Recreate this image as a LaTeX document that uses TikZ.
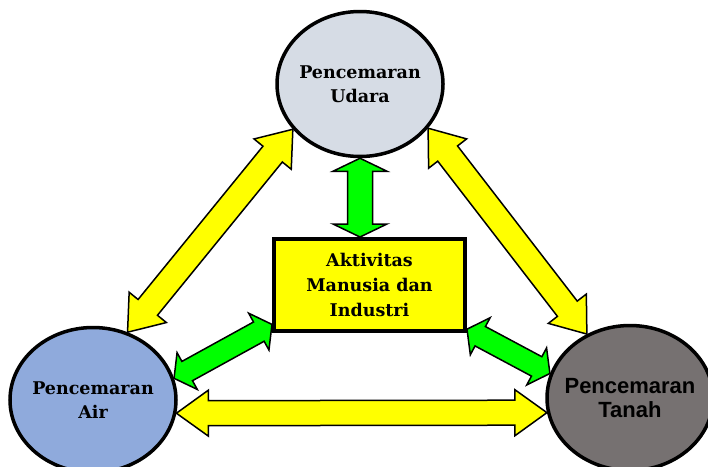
\documentclass[tikz,border=0pt]{standalone}
\usepackage{fontspec}
\setmainfont{DejaVu Serif}
\newfontfamily\tahomalike{Liberation Sans}
\usetikzlibrary{shapes.geometric,calc,backgrounds}
\definecolor{udarafill}{HTML}{D6DCE5}
\definecolor{airfill}{HTML}{8FAADC}
\definecolor{tanahfill}{HTML}{767171}
\definecolor{ygold}{HTML}{FFFF00}
\definecolor{gbright}{HTML}{00FF00}
\tikzset{
  bubble/.style={ellipse, draw=black, line width=3.5pt, minimum width=166pt,
    minimum height=145pt, inner sep=-10pt, align=center,
    font=\fontsize{17.5}{24}\selectfont\bfseries},
  actbox/.style={rectangle, draw=black, line width=4pt, fill=ygold,
    minimum width=191pt, minimum height=92pt, align=center,
    font=\fontsize{17.5}{25}\selectfont\bfseries},
  yarrow/.style={fill=ygold, draw=black, line width=1.5pt, line join=miter},
  garrow/.style={fill=gbright, draw=black, line width=1.5pt, line join=miter}
}
% #1 style, #2 from, #3 to, #4 shaft half width, #5 head half width, #6 head length
\newcommand\dblarrow[6]{%
  \path[#1] let \p1=(#2), \p2=(#3),
    \n1={atan2(\y2-\y1,\x2-\x1)}, \n2={veclen(\x2-\x1,\y2-\y1)} in
    {[shift={(\p1)}, rotate=\n1]
      (0,0) -- (#6,#5) -- (#6,#4) -- ({\n2-#6},#4) -- ({\n2-#6},#5) -- (\n2,0)
      -- ({\n2-#6},-#5) -- ({\n2-#6},-#4) -- (#6,-#4) -- (#6,-#5) -- cycle};}
\begin{document}
\begin{tikzpicture}[x=1pt,y=-1pt]
  \useasboundingbox (0,0) rectangle (708,466);
  \clip (0,0) rectangle (708,466);
  \node[bubble, fill=udarafill] (udara) at (360,84) {Pencemaran\\Udara};
  \node[bubble, fill=airfill] (air) at (93,400) {Pencemaran\\Air};
  \node[bubble, fill=tanahfill, font=\tahomalike\fontsize{22}{24}\selectfont\bfseries] (tanah) at (630,398) {Pencemaran\\Tanah};
  \node[actbox] (rect) at (369.5,285) {Aktivitas\\Manusia dan\\Industri};
  \begin{pgfonlayer}{background}
    \fill[white] (0,0) rectangle (708,466);
    \dblarrow{yarrow}{udara.214}{air.63}{12.5}{24}{32}
    \dblarrow{yarrow}{udara.327}{tanah.124}{12.5}{24}{32}
    \dblarrow{yarrow}{air.351}{tanah.190}{12.5}{23}{32}
    \dblarrow{garrow}{udara.south}{udara.south |- rect.north}{12.5}{27}{13}
    \dblarrow{garrow}{air.15}{$(rect.south west)!0.09!(rect.north west)$}{11}{21}{15}
    \dblarrow{garrow}{$(rect.south east)!0.04!(rect.north east)$}{tanah.163}{11}{21}{15}
  \end{pgfonlayer}
\end{tikzpicture}
\end{document}
